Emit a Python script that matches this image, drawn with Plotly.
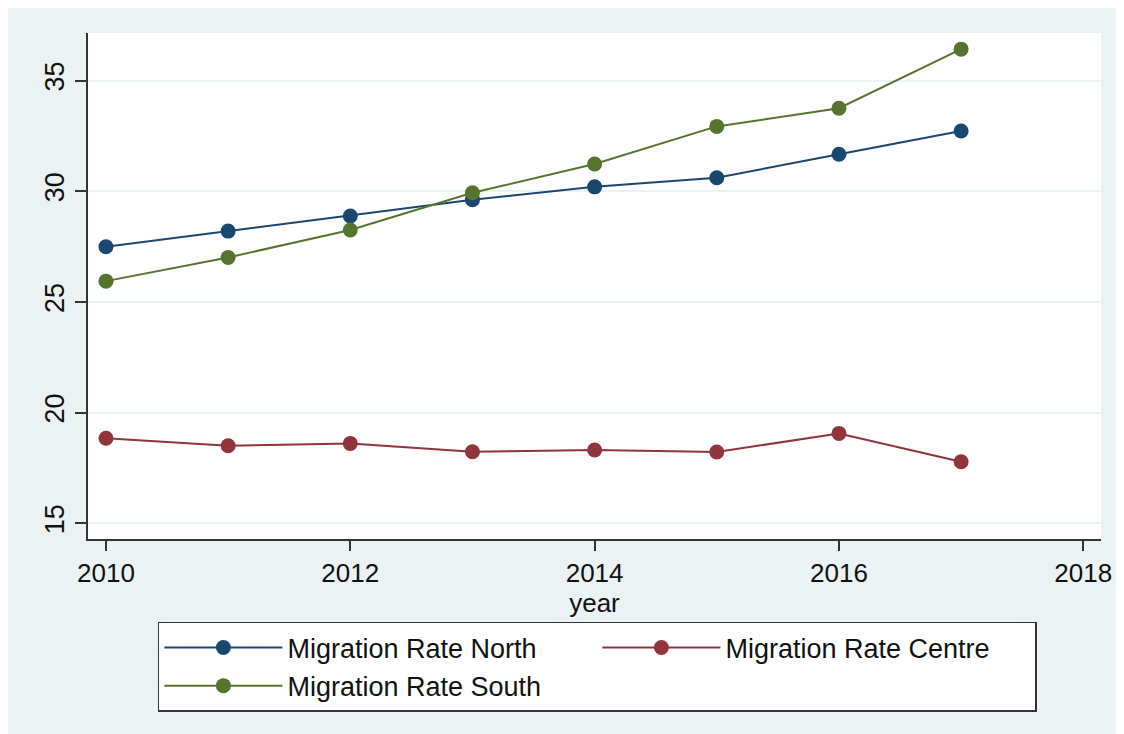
import plotly.graph_objects as go

years = [2010, 2011, 2012, 2013, 2014, 2015, 2016, 2017]
north = [27.49, 28.20, 28.88, 29.62, 30.20, 30.61, 31.67, 32.72]
centre = [18.84, 18.50, 18.61, 18.23, 18.31, 18.22, 19.06, 17.78]
south = [25.94, 27.01, 28.25, 29.93, 31.23, 32.93, 33.75, 36.42]

x_ticks = [2010, 2012, 2014, 2016, 2018]
y_ticks = [15, 20, 25, 30, 35]

names = ["Migration Rate North", "Migration Rate Centre", "Migration Rate South"]
colors = ["#1A476F", "#90353B", "#55752F"]

BG = "#EAF2F3"
FONT = "Arial, Liberation Sans, sans-serif"

fig = go.Figure()
for name, vals, col in zip(names, [north, centre, south], colors):
    fig.add_trace(go.Scatter(
        x=years, y=vals, name=name, mode="lines+markers",
        line=dict(color=col, width=2),
        marker=dict(color=col, size=15),
    ))

# page body has an 8px margin, so the figure is offset by 8px
fig.update_layout(
    width=1116, height=726,
    margin=dict(l=80, r=23, t=25, b=195),
    paper_bgcolor=BG,
    plot_bgcolor="white",
    font=dict(family=FONT, color="#111111", size=24),
    showlegend=True,
    legend=dict(
        orientation="h",
        x=0.069, xanchor="left",
        y=-0.164, yanchor="top",
        bgcolor="white",
        bordercolor="#333333", borderwidth=1.5,
        font=dict(family=FONT, size=27, color="#111111"),
        entrywidth=305, entrywidthmode="pixels",
        itemwidth=118,
        tracegroupgap=0,
    ),
    xaxis=dict(
        range=[2009.853, 2018.145],
        tickvals=x_ticks, ticktext=[str(v) for v in x_ticks],
        showgrid=False, zeroline=False,
        showline=True, linecolor="#333333", linewidth=1.5,
        ticks="outside", ticklen=10, tickwidth=1.5, tickcolor="#333333",
        tickfont=dict(family=FONT, size=26, color="#111111"),
        title=dict(text="year", font=dict(family=FONT, size=26, color="#111111"), standoff=0),
    ),
    yaxis=dict(
        range=[14.29, 37.15],
        tickvals=y_ticks, ticktext=[str(v) for v in y_ticks],
        showgrid=True, gridcolor=BG, gridwidth=1.5,
        zeroline=False,
        showline=True, linecolor="#333333", linewidth=1.5,
        ticks="outside", ticklen=11, tickwidth=1.5, tickcolor="#333333",
        tickangle=-90,
        tickfont=dict(family=FONT, size=27, color="#111111"),
    ),
)

fig.write_html("out.html")
